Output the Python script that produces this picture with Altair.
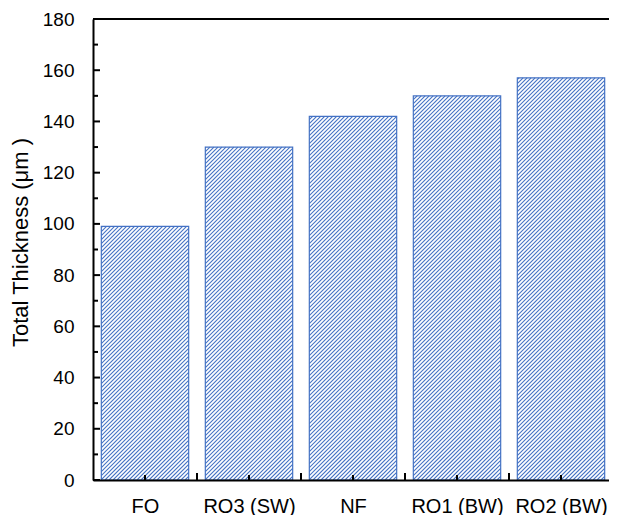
import json
import numpy as np
import pandas as pd
import altair as alt

# ---- data ----
categories = ["FO", "RO3 (SW)", "NF", "RO1 (BW)", "RO2 (BW)"]
thickness = [99, 130, 142, 150, 157]
y_major = [0, 20, 40, 60, 80, 100, 120, 140, 160, 180]
y_minor = [10, 30, 50, 70, 90, 110, 130, 150, 170]

# ---- styling ----
BAND_PX = 104.0         # px per category band
W, H = 516, 461
Y_MAX = 180
N = len(categories)
X_END = W / BAND_PX     # visible part of the category axis
BAR_PAD = 0.08          # fraction of band left empty on each side
HATCH_STEP = 4          # horizontal spacing of hatch lines (px)
BLUE = "#4472C4"
FONT = "Liberation Sans"

px_x = BAND_PX
px_y = H / Y_MAX

bars = pd.DataFrame({
    "cat": categories,
    "value": thickness,
    "x0": [i + BAR_PAD for i in range(N)],
    "x1": [i + 1 - BAR_PAD for i in range(N)],
})

# hatch segments ("/" direction) clipped to each bar, computed from the bar values
segs = []
for i, v in enumerate(thickness):
    xl = (i + BAR_PAD) * px_x
    xr = (i + 1 - BAR_PAD) * px_x
    hh = v * px_y
    c_start = np.floor((xl - hh) / HATCH_STEP) * HATCH_STEP
    for c in np.arange(c_start, xr, HATCH_STEP):
        y0 = max(0.0, xl - c)
        y1 = min(hh, xr - c)
        if y1 > y0:
            segs.append({
                "hx": (c + y0) / px_x, "hy": y0 / px_y,
                "hx2": (c + y1) / px_x, "hy2": y1 / px_y,
            })
hatch = pd.DataFrame(segs)

xscale = alt.Scale(domain=[0, X_END], nice=False, zero=False)
yscale = alt.Scale(domain=[0, Y_MAX], nice=False)

label_expr = json.dumps(categories) + "[floor(datum.value)]"

x_axis = alt.Axis(
    values=[i + 0.5 for i in range(N)], labelExpr=label_expr, title=None,
    ticks=False, tickSize=0, grid=False, domain=True, domainColor="black",
    domainWidth=2, labelFont=FONT, labelFontSize=20, labelColor="black",
    labelBaseline="alphabetic", labelPadding=32, labelAngle=0, zindex=1,
    labelBound=False, labelOverlap=False,
)
y_axis = alt.Axis(
    values=y_major, title="Total Thickness (μm )", ticks=False, tickSize=0,
    grid=False, domain=True, domainColor="black", domainWidth=2,
    labelFont=FONT, labelFontSize=19, labelColor="black", labelPadding=19,
    titleFont=FONT, titleFontSize=22, titleFontWeight="normal",
    titleColor="black", titleX=-66, titleY=223, titleAlign="center",
    titleBaseline="alphabetic", titleAngle=270, zindex=1,
)

base_bars = alt.Chart(bars).mark_rect(
    fill="white", stroke=BLUE, strokeWidth=1.2, clip=True
).encode(
    x=alt.X("x0:Q", scale=xscale, axis=x_axis),
    x2="x1:Q",
    y=alt.Y("value:Q", scale=yscale, axis=y_axis),
    y2=alt.datum(0),
)

hatch_layer = alt.Chart(hatch).mark_rule(color=BLUE, strokeWidth=1.1, clip=True).encode(
    x=alt.X("hx:Q", scale=xscale),
    x2="hx2:Q",
    y=alt.Y("hy:Q", scale=yscale),
    y2="hy2:Q",
)

top_line = alt.Chart(pd.DataFrame({"t": [Y_MAX]})).mark_rule(color="black", strokeWidth=2).encode(
    y=alt.Y("t:Q", scale=yscale), x=alt.value(0), x2=alt.value(W)
)
ymaj = alt.Chart(pd.DataFrame({"t": y_major})).mark_rule(color="black", strokeWidth=2).encode(
    y=alt.Y("t:Q", scale=yscale), x=alt.value(0), x2=alt.value(7)
)
ymin = alt.Chart(pd.DataFrame({"t": y_minor})).mark_rule(color="black", strokeWidth=2).encode(
    y=alt.Y("t:Q", scale=yscale), x=alt.value(0), x2=alt.value(5)
)
xmaj = alt.Chart(pd.DataFrame({"t": list(range(1, N))})).mark_rule(color="black", strokeWidth=2).encode(
    x=alt.X("t:Q", scale=xscale), y=alt.value(H), y2=alt.value(H - 7)
)
xmin = alt.Chart(pd.DataFrame({"t": [i + 0.5 for i in range(N)]})).mark_rule(color="black", strokeWidth=2).encode(
    x=alt.X("t:Q", scale=xscale), y=alt.value(H), y2=alt.value(H - 5)
)

chart = alt.layer(base_bars, hatch_layer, top_line, ymaj, ymin, xmaj, xmin).properties(
    width=W, height=H,
    autosize=alt.AutoSizeParams(type="none"),
    padding={"left": 85, "top": 11, "right": 0, "bottom": 35},
    background="white",
).configure_view(stroke=None)

chart.save("out.html", embed_options={"renderer": "svg", "actions": False})
